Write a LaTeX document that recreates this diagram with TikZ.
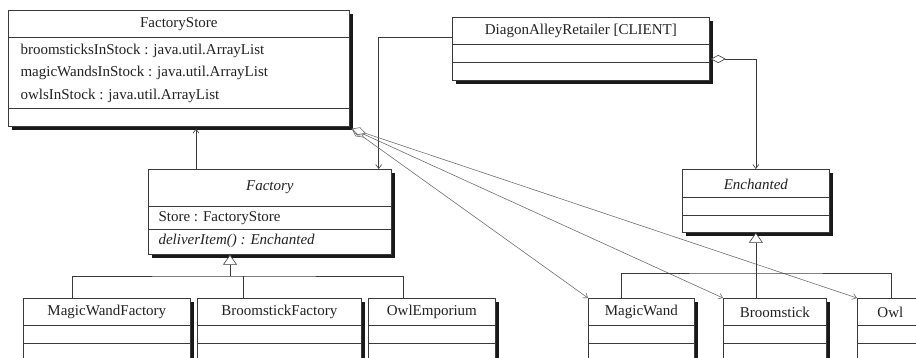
\documentclass[tikz,border=0pt]{standalone}
\usepackage{fontspec}
\setmainfont{Liberation Serif}
\usetikzlibrary{arrows.meta,shadows}

\definecolor{umlline}{HTML}{3A3A3A}
\definecolor{umllink}{HTML}{6E6E6E}
\definecolor{umltext}{HTML}{222222}

\tikzset{
  classbox/.style={draw=umlline, line width=0.7pt, fill=white, anchor=north west, inner sep=0pt,
    drop shadow={shadow xshift=3.5pt, shadow yshift=-3.5pt, fill=black!90, opacity=1}},
  plainline/.style={draw=umlline, line width=0.6pt},
  title/.style={text=umltext, font=\fontsize{15}{18}\selectfont},
  member/.style={title, anchor=west},
  assoc/.style={plainline, -{Straight Barb[length=4pt,width=6pt]}},
  aggr/.style={plainline, {Diamond[length=15pt,width=8pt,fill=white]}-{Straight Barb[length=4pt,width=6pt]}},
  aggrlink/.style={aggr, draw=umllink},
  generalize/.style={plainline, -{Triangle[length=10pt,width=14pt,fill=white]}},
}

\begin{document}
\begin{tikzpicture}[x=1pt,y=-1pt]
    \clip (0,0) rectangle (916,358);
    % classes
    \node[classbox, minimum width=341pt, minimum height=116pt] (fstore) at (8,10) {};
    \node[classbox, minimum width=257pt, minimum height=63pt] (retailer) at (452,17) {};
    \node[classbox, minimum width=243pt, minimum height=85pt] (factory) at (148,169) {};
    \node[classbox, minimum width=147pt, minimum height=63pt] (enchanted) at (682,169) {};
    \node[classbox, minimum width=167pt, minimum height=90pt] (wandfactory) at (23,298) {};
    \node[classbox, minimum width=164pt, minimum height=90pt] (broomfactory) at (197,298) {};
    \node[classbox, minimum width=127pt, minimum height=90pt] (owlemporium) at (368,298) {};
    \node[classbox, minimum width=106pt, minimum height=90pt] (wand) at (588,298) {};
    \node[classbox, minimum width=103pt, minimum height=90pt] (broom) at (723,298) {};
    \node[classbox, minimum width=66pt, minimum height=90pt] (owl) at (857,298) {};

    % compartments
    \draw[plainline] (fstore.west |- 0,37) -- (fstore.east |- 0,37)
                     (fstore.west |- 0,108) -- (fstore.east |- 0,108);
    \draw[plainline] (retailer.west |- 0,44) -- (retailer.east |- 0,44)
                     (retailer.west |- 0,62) -- (retailer.east |- 0,62);
    \draw[plainline] (factory.west |- 0,206) -- (factory.east |- 0,206)
                     (factory.west |- 0,229) -- (factory.east |- 0,229);
    \draw[plainline] (enchanted.west |- 0,197) -- (enchanted.east |- 0,197)
                     (enchanted.west |- 0,215) -- (enchanted.east |- 0,215);
    \foreach \c in {wandfactory,broomfactory,owlemporium,wand,broom,owl}
        \draw[plainline] (\c.west |- 0,325) -- (\c.east |- 0,325)
                         (\c.west |- 0,343) -- (\c.east |- 0,343);

    % names and members
    \node[title] at (fstore.north |- 0,24) {FactoryStore};
    \node[member] at ([xshift=9pt]fstore.west |- 0,51) {broomsticksInStock : java.util.ArrayList};
    \node[member] at ([xshift=9pt]fstore.west |- 0,73) {magicWandsInStock : java.util.ArrayList};
    \node[member] at ([xshift=9pt]fstore.west |- 0,96) {owlsInStock : java.util.ArrayList};
    \node[title] at (retailer.north |- 0,31) {DiagonAlleyRetailer [CLIENT]};
    \node[title] at (factory.north |- 0,187) {\textit{Factory}};
    \node[member] at ([xshift=7pt]factory.west |- 0,218) {Store : FactoryStore};
    \node[member] at ([xshift=7pt]factory.west |- 0,241) {\textit{deliverItem() : Enchanted}};
    \node[title] at (enchanted.north |- 0,184) {\textit{Enchanted}};
    \foreach \c/\t in {wandfactory/MagicWandFactory, broomfactory/BroomstickFactory,
                       owlemporium/OwlEmporium, wand/MagicWand, broom/Broomstick, owl/Owl}
        \node[title] at (\c.north |- 0,312) {\t};

    % associations
    \draw[assoc] ([xshift=48pt]factory.north west) -- ([xshift=48pt,yshift=-2pt]factory.north west |- fstore.south);
    \draw[assoc] ([yshift=-20pt]retailer.north west) -| ([xshift=-13pt]factory.north east);
    \draw[aggr] ([xshift=1pt,yshift=-42pt]retailer.north east) -| (enchanted.north);
    \foreach \t in {wand,broom,owl}
        \draw[aggrlink] ([shift={(2pt,-2pt)}]fstore.south east) -- (\t.north west);

    % generalizations
    \coordinate (fbus) at (230,276);
    \draw[generalize] (fbus) -- (fbus |- factory.south);
    \draw[plainline] ([xshift=49pt]wandfactory.north west) |- (fbus) -| ([xshift=35pt]owlemporium.north west);
    \draw[plainline] ([xshift=46pt]broomfactory.north west) -- ([xshift=46pt]broomfactory.north west |- fbus);
    \coordinate (ebus) at (756,273);
    \draw[generalize] (broom.north west -| enchanted.south) -- (enchanted.south);
    \draw[plainline] ([xshift=33pt]wand.north west) |- (ebus) -| ([xshift=34pt]owl.north west);
\end{tikzpicture}
\end{document}
